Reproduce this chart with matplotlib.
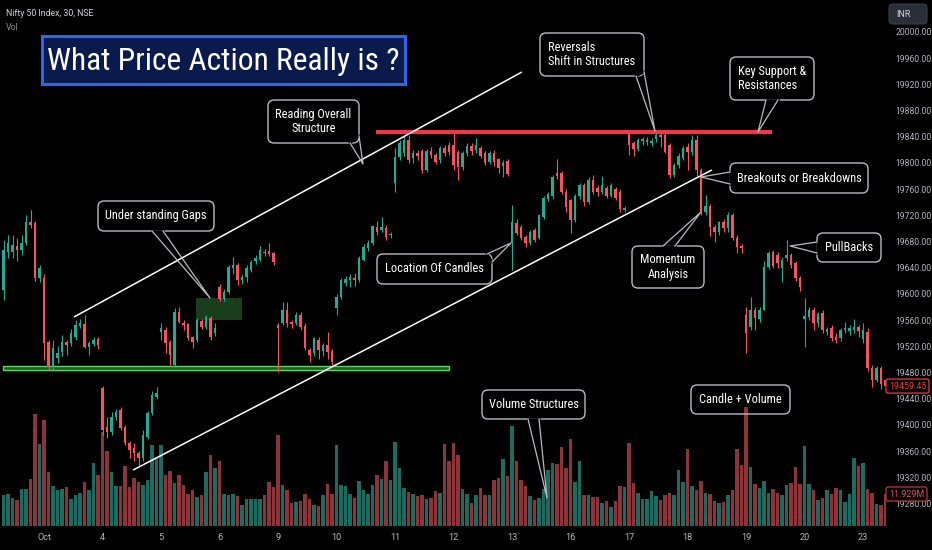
import matplotlib
matplotlib.use("Agg")
import matplotlib.pyplot as plt
import matplotlib.transforms as mtransforms
from matplotlib.patches import FancyBboxPatch, Rectangle
from matplotlib.lines import Line2D
from matplotlib import font_manager as fm
import numpy as np

W, H = 932, 550

# ---------------- data ----------------
day_labels = ["Oct", "4", "5", "6", "9", "10", "11", "12", "13", "16", "17", "18", "19", "20", "23"]
bars_per_day = [9, 13, 13, 13, 13, 13, 13, 13, 13, 13, 13, 13, 13, 13, 13, 6]   # Sep 29 (partial) ... Oct 23 (partial)

open_px = [
    19606, 19664, 19664, 19673, 19667, 19678, 19710, 19708, 19624,
    19624, 19527, 19489, 19502, 19511, 19527, 19525, 19534, 19551, 19554, 19519, 19524, 19531,
    19456, 19397, 19389, 19412, 19423, 19397, 19373, 19365, 19357, 19350, 19382, 19418, 19443,
    19542, 19545, 19527, 19492, 19573, 19556, 19554, 19534, 19530, 19559, 19550, 19563, 19540,
    19611, 19592, 19603, 19640, 19644, 19621, 19626, 19637, 19650, 19652, 19664, 19665, 19662,
    19553, 19556, 19576, 19557, 19556, 19568, 19551, 19515, 19510, 19530, 19513, 19522, 19513,
    19579, 19595, 19617, 19621, 19625, 19621, 19652, 19670, 19678, 19702, 19698, 19701, 19690,
    19770, 19809, 19815, 19835, 19808, 19815, 19818, 19790, 19818, 19812, 19805, 19823, 19828,
    19828, 19817, 19794, 19815, 19826, 19820, 19823, 19815, 19802, 19815, 19806, 19795, 19803,
    19678, 19708, 19702, 19687, 19678, 19697, 19686, 19718, 19745, 19750, 19785, 19785, 19756,
    19743, 19713, 19750, 19766, 19740, 19774, 19762, 19755, 19762, 19750, 19760, 19756, 19728,
    19845, 19830, 19822, 19833, 19832, 19830, 19836, 19843, 19843, 19827, 19782, 19797, 19808,
    19825, 19817, 19835, 19789, 19725, 19734, 19702, 19695, 19710, 19700, 19720, 19685, 19673,
    19568, 19550, 19576, 19562, 19576, 19641, 19664, 19660, 19640, 19655, 19660, 19647, 19624,
    19562, 19565, 19575, 19555, 19571, 19542, 19548, 19535, 19533, 19545, 19543, 19545, 19550,
    19532, 19542, 19487, 19469, 19487, 19468,
]
high_px = [
    19682, 19690, 19690, 19685, 19690, 19720, 19728, 19712, 19645,
    19630, 19530, 19530, 19520, 19537, 19530, 19547, 19560, 19562, 19568, 19528, 19535, 19535,
    19460, 19412, 19420, 19425, 19427, 19400, 19376, 19372, 19360, 19392, 19422, 19452, 19458,
    19555, 19550, 19530, 19579, 19580, 19560, 19556, 19536, 19563, 19562, 19568, 19566, 19555,
    19615, 19608, 19645, 19656, 19647, 19630, 19645, 19652, 19660, 19673, 19668, 19678, 19664,
    19555, 19588, 19588, 19560, 19572, 19572, 19555, 19518, 19535, 19535, 19525, 19542, 19516,
    19600, 19625, 19628, 19630, 19632, 19658, 19676, 19682, 19706, 19712, 19718, 19706, 19695,
    19823, 19835, 19843, 19843, 19820, 19820, 19822, 19822, 19825, 19816, 19826, 19828, 19832,
    19846, 19820, 19818, 19830, 19830, 19838, 19826, 19818, 19818, 19820, 19808, 19805, 19806,
    19736, 19715, 19705, 19690, 19698, 19700, 19722, 19750, 19755, 19782, 19806, 19788, 19760,
    19745, 19752, 19770, 19769, 19778, 19782, 19766, 19780, 19765, 19770, 19764, 19760, 19734,
    19848, 19834, 19838, 19840, 19840, 19838, 19849, 19847, 19846, 19830, 19800, 19815, 19826,
    19830, 19842, 19842, 19792, 19751, 19738, 19706, 19712, 19714, 19725, 19724, 19690, 19676,
    19580, 19595, 19580, 19580, 19650, 19666, 19667, 19664, 19656, 19682, 19663, 19650, 19628,
    19594, 19580, 19580, 19572, 19575, 19550, 19552, 19540, 19548, 19558, 19552, 19562, 19553,
    19555, 19548, 19492, 19490, 19490, 19472,
]
low_px = [
    19591, 19655, 19655, 19650, 19660, 19675, 19700, 19620, 19618,
    19499, 19484, 19484, 19495, 19505, 19507, 19520, 19530, 19548, 19517, 19507, 19520, 19516,
    19385, 19380, 19385, 19408, 19392, 19370, 19350, 19345, 19336, 19345, 19378, 19415, 19440,
    19530, 19510, 19492, 19489, 19555, 19545, 19530, 19518, 19527, 19546, 19546, 19530, 19536,
    19589, 19589, 19600, 19630, 19614, 19615, 19618, 19634, 19646, 19650, 19658, 19658, 19645,
    19481, 19552, 19550, 19548, 19552, 19545, 19514, 19496, 19505, 19500, 19505, 19500, 19492,
    19568, 19592, 19612, 19610, 19612, 19618, 19650, 19665, 19675, 19690, 19695, 19683, 19686,
    19755, 19805, 19810, 19800, 19800, 19805, 19785, 19786, 19808, 19798, 19800, 19810, 19812,
    19790, 19774, 19790, 19810, 19812, 19815, 19808, 19797, 19798, 19795, 19785, 19779, 19780,
    19637, 19690, 19683, 19672, 19675, 19680, 19684, 19715, 19742, 19745, 19776, 19752, 19725,
    19693, 19710, 19745, 19734, 19738, 19752, 19750, 19752, 19746, 19748, 19744, 19725, 19725,
    19812, 19810, 19818, 19828, 19828, 19826, 19832, 19825, 19815, 19777, 19778, 19792, 19805,
    19789, 19812, 19780, 19720, 19720, 19688, 19680, 19690, 19695, 19695, 19682, 19662, 19662,
    19510, 19545, 19545, 19558, 19575, 19638, 19640, 19640, 19618, 19650, 19640, 19620, 19605,
    19519, 19560, 19545, 19550, 19540, 19537, 19528, 19525, 19528, 19540, 19538, 19540, 19535,
    19525, 19482, 19458, 19465, 19455, 19450,
]
close_px = [
    19667, 19678, 19675, 19667, 19678, 19710, 19705, 19624, 19640,
    19525, 19489, 19518, 19510, 19527, 19522, 19540, 19553, 19556, 19519, 19525, 19530, 19522,
    19392, 19389, 19412, 19420, 19395, 19373, 19362, 19357, 19350, 19385, 19418, 19446, 19449,
    19548, 19525, 19507, 19573, 19557, 19553, 19533, 19527, 19560, 19550, 19565, 19534, 19548,
    19592, 19603, 19641, 19644, 19621, 19626, 19640, 19649, 19655, 19667, 19662, 19661, 19649,
    19548, 19576, 19556, 19554, 19568, 19550, 19518, 19507, 19533, 19515, 19522, 19512, 19496,
    19595, 19621, 19623, 19626, 19621, 19655, 19672, 19678, 19704, 19695, 19703, 19687, 19692,
    19809, 19830, 19835, 19805, 19815, 19810, 19790, 19818, 19812, 19802, 19823, 19815, 19817,
    19797, 19794, 19815, 19826, 19818, 19828, 19811, 19800, 19815, 19802, 19792, 19800, 19783,
    19710, 19693, 19685, 19678, 19695, 19683, 19720, 19747, 19752, 19779, 19780, 19756, 19733,
    19713, 19750, 19766, 19740, 19774, 19756, 19755, 19766, 19750, 19766, 19747, 19730, 19731,
    19827, 19822, 19835, 19836, 19835, 19834, 19843, 19840, 19817, 19782, 19797, 19810, 19823,
    19817, 19835, 19789, 19725, 19734, 19702, 19695, 19710, 19700, 19720, 19685, 19672, 19670,
    19540, 19576, 19563, 19576, 19641, 19662, 19642, 19648, 19652, 19660, 19645, 19624, 19611,
    19566, 19575, 19555, 19570, 19545, 19547, 19533, 19530, 19545, 19548, 19548, 19550, 19543,
    19545, 19487, 19469, 19487, 19462, 19459.45,
]
volume_m = [
    11.4, 12.1, 10.4, 9.6, 13.9, 13.9, 17.7, 41.9, 30.7,
    39.4, 20.1, 14.8, 13.3, 13.9, 14.5, 10.2, 11.4, 12.4, 16.4, 13.3, 23.6, 19.1,
    35.1, 27.8, 20.1, 14.9, 14.9, 22.2, 14.5, 17.9, 16.4, 15.4, 17.3, 30.3, 25.4,
    30.3, 19.1, 20.4, 16.2, 19.1, 15.4, 12.1, 13.5, 10.8, 11.4, 20.1, 26.4, 21.6,
    24.1, 11.9, 11.4, 12.1, 11.2, 8.0, 10.2, 9.9, 9.9, 10.2, 11.4, 16.4, 14.5,
    33.8, 15.4, 13.3, 8.7, 8.9, 9.2, 12.1, 9.9, 8.0, 7.5, 11.4, 15.8, 12.1,
    30.3, 15.4, 14.9, 12.1, 10.4, 16.7, 13.3, 11.9, 15.4, 19.1, 17.4, 24.4, 17.0,
    31.3, 21.6, 14.2, 12.7, 12.1, 11.2, 11.7, 9.9, 10.4, 12.9, 12.4, 30.6, 24.1,
    31.1, 26.4, 13.7, 12.1, 8.7, 11.4, 14.2, 11.7, 11.4, 17.0, 17.9, 25.1, 18.5,
    37.3, 24.1, 17.3, 14.8, 11.2, 9.6, 10.4, 13.9, 20.8, 23.6, 23.0, 29.5, 21.8,
    32.6, 16.4, 24.4, 11.7, 11.4, 10.8, 10.8, 8.7, 9.3, 7.1, 9.3, 14.9, 14.4,
    31.0, 16.2, 12.4, 10.2, 10.2, 13.2, 11.1, 9.6, 11.4, 12.4, 11.7, 21.0, 16.4,
    28.8, 14.8, 13.3, 16.7, 12.4, 12.1, 9.4, 8.7, 8.8, 11.4, 13.3, 28.8, 22.6,
    44.4, 21.9, 15.7, 14.2, 16.7, 12.4, 13.7, 12.3, 11.4, 15.4, 16.2, 21.9, 15.5,
    29.7, 15.5, 13.3, 9.6, 10.4, 13.3, 12.1, 14.3, 13.3, 8.8, 12.1, 25.5, 22.4,
    23.5, 13.9, 12.4, 8.2, 8.0, 11.929,
]
price_ticks = [19280, 19320, 19360, 19400, 19440, 19480, 19520, 19560, 19600, 19640,
               19680, 19720, 19760, 19800, 19840, 19880, 19920, 19960, 20000]
last_price = 19459.45
last_volume = 11.929
last_volume_label = "11.929M"

# chart drawings (anchored in candle index / price)
upper_trend = [(15.67, 19564.9), (115.2, 19938.9)]
lower_trend = [(28.8, 19331.3), (157.4, 19789.3)]
resistance = (19847.0, 82.8, 170.8)
support_band = (19484.0, 19490.0, -0.11, 99.0)
gap_zone = (42.8, 53.0, 19560.0, 19594.0)

# ---------------- style ----------------
UP, DN = "#22ab94", "#f7525f"
VUP, VDN = "#1d6a61", "#8c3439"
EDGE = "#b8bbc2"
TXT = "#b2b5be"


def pick(fams):
    for f in fams:
        try:
            fm.findfont(fm.FontProperties(family=f), fallback_to_default=False)
            return f
        except Exception:
            pass
    return "DejaVu Sans"


NUMFONT = pick(["Roboto", "DejaVu Sans"])
CALLFONT = pick(["Liberation Sans Narrow", "Roboto Condensed", "Roboto"])

fig = plt.figure(figsize=(W / 100, H / 100), dpi=100, facecolor="black")
rect = [0, 24 / H, 886 / W, 526 / H]
ax_v = fig.add_axes(rect, facecolor="black")
ax = ax_v.twinx()
ax.patch.set_visible(False)

o = np.array(open_px, float)
h = np.array(high_px, float)
l = np.array(low_px, float)
c = np.array(close_px, float)
v = np.array(volume_m, float)
n = len(o)
idx = np.arange(n)
h = np.maximum(h, np.maximum(o, c))
l = np.minimum(l, np.minimum(o, c))
up = c >= o
col = np.where(up, UP, DN)
vcol = np.where(up, VUP, VDN)

# volume
ax_v.bar(idx, v, width=0.78, color=vcol, linewidth=0, zorder=2)

# drawings below candles
gx0, gx1, gy0, gy1 = gap_zone
ax.add_patch(Rectangle((gx0, gy0), gx1 - gx0, gy1 - gy0, facecolor="#1f4a22", alpha=0.85,
                       edgecolor="none", zorder=2))
sb0, sb1, sx0, sx1 = support_band
ax.add_patch(Rectangle((sx0, sb0), sx1 - sx0, sb1 - sb0, facecolor="#1f5a22",
                       edgecolor="#5fd35f", linewidth=1.0, zorder=2))

# candles
ax.vlines(idx, l, h, colors=col, linewidth=0.8, zorder=3)
body_lo = np.minimum(o, c)
body_h = np.maximum(np.abs(c - o), 1.3)
ax.bar(idx, body_h, bottom=body_lo, width=0.66, color=col, linewidth=0, zorder=4)

# trend / level lines
ry, rx0, rx1 = resistance
ax.hlines(ry, rx0, rx1, colors="#f23645", linewidth=3.0, zorder=5)
for seg in (upper_trend, lower_trend):
    ax.plot([seg[0][0], seg[1][0]], [seg[0][1], seg[1][1]], color="white", linewidth=1.1, zorder=6,
            solid_capstyle="butt")

ax.set_xlim(-0.778, 196.11)
ax.set_ylim(19245.8, 20048.85)
ax_v.set_ylim(0, 196.1)

# axes cosmetics
for a in (ax, ax_v):
    for s in a.spines.values():
        s.set_visible(False)
ax_v.set_yticks([])
starts = np.cumsum(bars_per_day)[:-1]
ax_v.set_xticks(starts)
ax_v.set_xticklabels(day_labels)
ax_v.tick_params(axis="x", length=0, pad=5, labelsize=6.6, labelcolor=TXT)
for t in ax_v.get_xticklabels():
    t.set_fontfamily(NUMFONT)
ax.set_yticks(price_ticks)
ax.set_yticklabels([f"{p:.2f}" for p in price_ticks])
ax.yaxis.tick_right()
ax.tick_params(axis="y", length=0, pad=7, labelsize=6.2, labelcolor=TXT)
for t in ax.get_yticklabels():
    t.set_fontfamily(NUMFONT)

# pixel transform (origin top-left of figure)
px = mtransforms.Affine2D().scale(1.0 / W, -1.0 / H).translate(0, 1) + fig.transFigure
renderer = fig.canvas.get_renderer()


def fit_size(txt, family, target, base=10.0):
    t = fig.text(0, 0, txt, fontsize=base, family=family)
    w = t.get_window_extent(renderer).width
    t.remove()
    return base * target / w


# header texts
fig.text(6, 13.5, "Nifty 50 Index, 30, NSE", transform=px, ha="left", va="center",
         color="#d1d4dc", fontsize=6.3, family=NUMFONT)
fig.text(6, 27, "Vol", transform=px, ha="left", va="center", color="#8a8d96", fontsize=6.3,
         family=NUMFONT)

# INR box
ax.add_patch(FancyBboxPatch((889, 4), 38, 20, boxstyle="round,pad=0,rounding_size=4", transform=px,
                            facecolor="#2a2e39", edgecolor="#3a3e49", linewidth=0.8, zorder=20,
                            clip_on=False))
ax.text(896, 14.5, "INR", transform=px, ha="left", va="center", color="#d1d4dc", fontsize=6.5,
        family=NUMFONT, zorder=21, clip_on=False)

# title
ax.add_patch(FancyBboxPatch((42, 36), 363, 48, boxstyle="square,pad=0", transform=px,
                            facecolor="#0b1a4c", edgecolor="#2d66e8", linewidth=2.2, zorder=20,
                            clip_on=False))
title = "What Price Action Really is ?"
tfs = fit_size(title, CALLFONT, 350)
ax.text(223.5, 61, title, transform=px, ha="center", va="center", color="white", fontsize=tfs,
        family=CALLFONT, zorder=21, clip_on=False)

# callouts
cfs = fit_size("Breakouts or Breakdowns", CALLFONT, 124)
callouts = [
    ("Under standing Gaps", (98, 201, 214, 231), [(152, 231), (210, 298), (163, 231)], "center", True),
    ("Reading Overall\nStructure", (268, 100, 359, 143), [(350, 143), (363, 164), (359, 136)], "center", True),
    ("Location Of Candles", (377, 254, 492, 284), [(487, 254), (511, 243), (492, 262)], "center", True),
    ("Reversals\nShift in Structures", (540, 33, 644, 76), [(636, 76), (655, 131), (644, 72)], "left", True),
    ("Key Support &\nResistances", (730, 57, 814, 100), [(766, 100), (758, 132), (778, 100)], "left", True),
    ("Breakouts or Breakdowns", (730, 163, 868, 193), [(730, 172), (701, 177), (730, 184)], "center", True),
    ("Momentum\nAnalysis", (632, 246, 704, 288), [(663, 246), (701, 212), (675, 246)], "center", True),
    ("PullBacks", (817, 233, 881, 262), [(817, 242), (790, 246), (817, 253)], "center", True),
    ("Volume Structures", (482, 390, 585, 419), [(528, 419), (547, 498), (539, 419)], "center", True),
    ("Candle + Volume", (691, 385, 790, 414), None, "center", False),
]
for text, (x0, y0, x1, y1), ptr, malign, filled in callouts:
    ax.add_patch(FancyBboxPatch((x0, y0), x1 - x0, y1 - y0, boxstyle="round,pad=0,rounding_size=6",
                                transform=px, facecolor="black" if filled else "none",
                                edgecolor=EDGE, linewidth=1.0, zorder=20, clip_on=False))
    if ptr is not None:
        b1, tip, b2 = ptr
        ax.add_line(Line2D([b1[0], b2[0]], [b1[1], b2[1]], transform=px, color="black",
                           linewidth=1.8, zorder=21, clip_on=False))
        ax.add_line(Line2D([b1[0], tip[0], b2[0]], [b1[1], tip[1], b2[1]], transform=px, color=EDGE,
                           linewidth=0.9, zorder=22, clip_on=False))
    ax.text((x0 + x1) / 2, (y0 + y1) / 2, text, transform=px, ha="center", va="center",
            multialignment=malign, color="white", fontsize=cfs, family=CALLFONT,
            linespacing=1.15, zorder=23, clip_on=False)

# last price / last volume labels on the scale
fig.canvas.draw()
yp = H - ax.transData.transform((0, last_price))[1]
ax.add_patch(FancyBboxPatch((886, yp - 7), 43, 14, boxstyle="round,pad=0,rounding_size=2", transform=px,
                            facecolor="black", edgecolor="#f23645", linewidth=0.9, zorder=20,
                            clip_on=False))
ax.text(907.5, yp, f"{last_price:.2f}", transform=px, ha="center", va="center", color="#f23645",
        fontsize=6.4, family=NUMFONT, zorder=21, clip_on=False)
yv = H - ax_v.transData.transform((0, last_volume))[1]
ax.add_patch(FancyBboxPatch((886, yv - 7), 41, 14, boxstyle="round,pad=0,rounding_size=2", transform=px,
                            facecolor="black", edgecolor="#c0343f", linewidth=0.9, zorder=20,
                            clip_on=False))
ax.text(906.5, yv, last_volume_label, transform=px, ha="center", va="center", color="#e0545e",
        fontsize=6.4, family=NUMFONT, zorder=21, clip_on=False)

fig.savefig("out.png", dpi=100, facecolor="black")
